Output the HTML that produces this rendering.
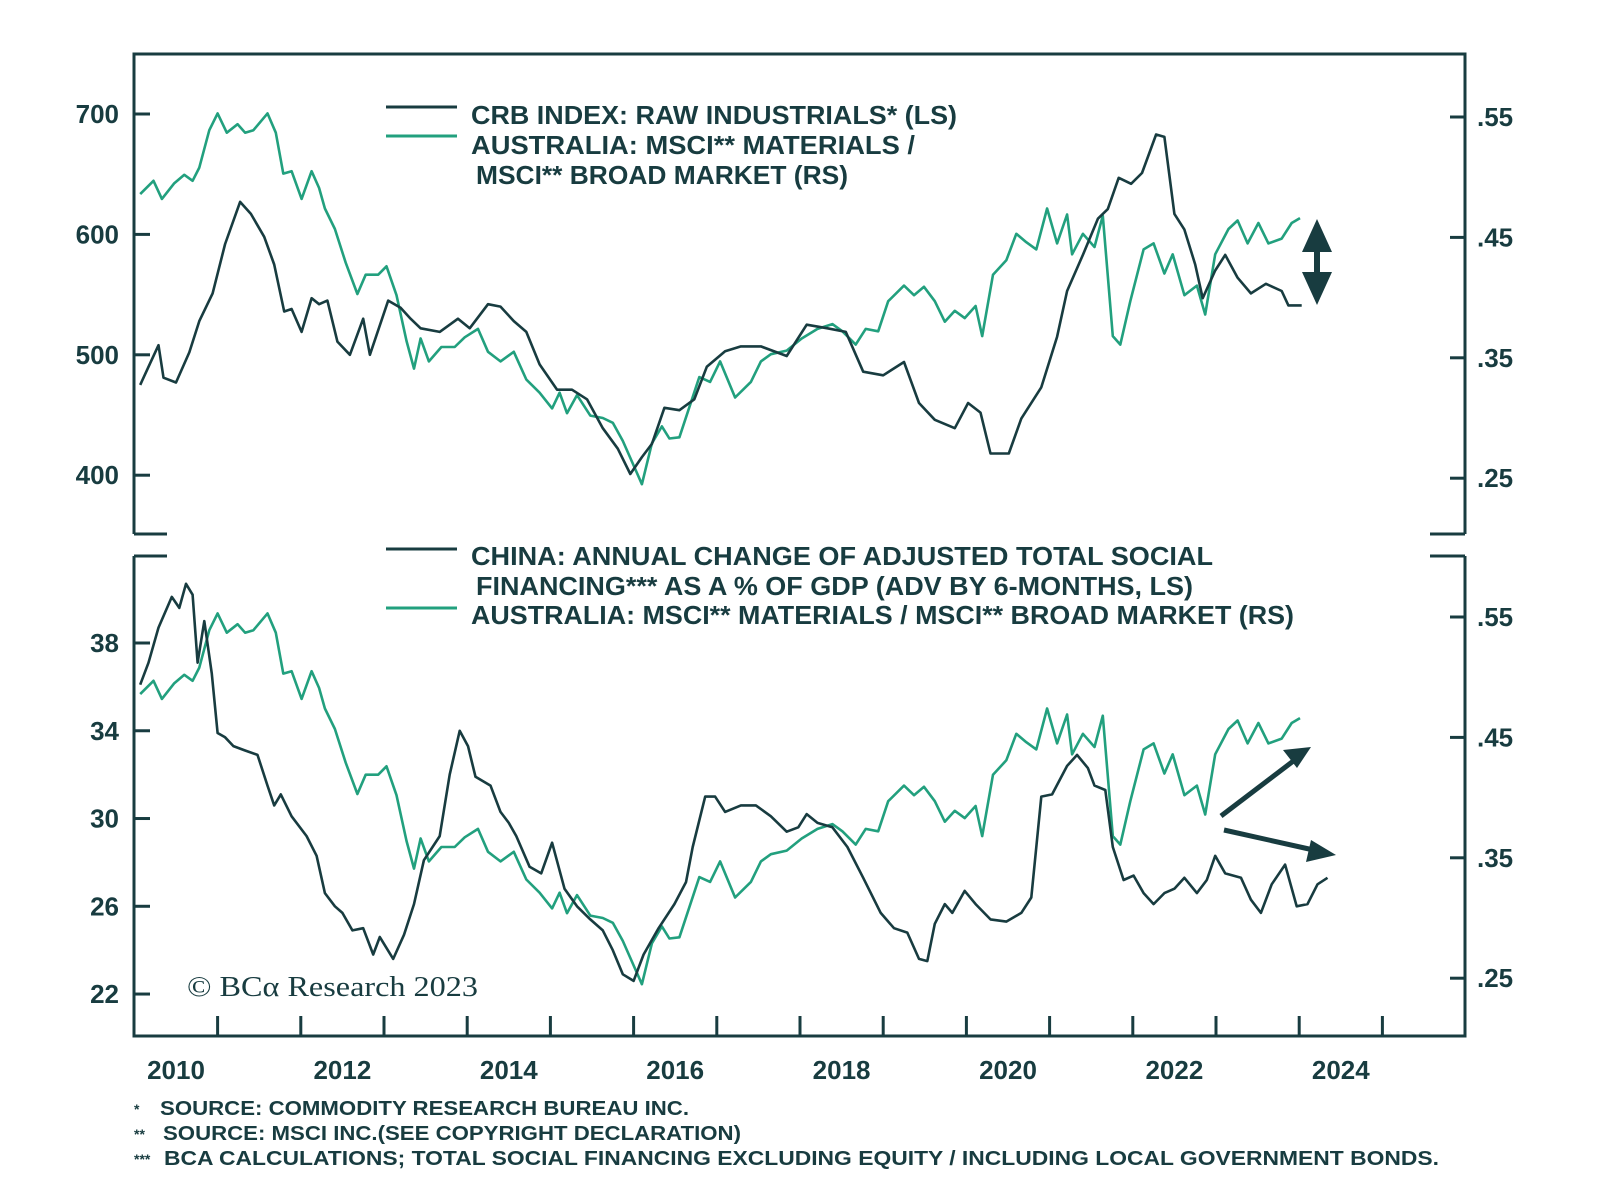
<!DOCTYPE html>
<html><head><meta charset="utf-8"><style>
html,body{margin:0;padding:0;background:#fff;}
svg{display:block;}
text{font-family:"Liberation Sans",sans-serif;font-weight:bold;fill:#183c40;}
</style></head><body>
<svg id="chart" width="1600" height="1200" viewBox="0 0 1600 1200" xmlns="http://www.w3.org/2000/svg">
<g id="frame" stroke="#183c40" stroke-width="3" fill="none">
  <polyline points="134,534 134,54 1465,54 1465,534"/>
  <line x1="134" y1="534" x2="167" y2="534"/>
  <line x1="1430" y1="534" x2="1465" y2="534"/>
  <polyline points="134,556 134,1036 1465,1036 1465,556"/>
  <line x1="134" y1="556" x2="167" y2="556"/>
  <line x1="1430" y1="556" x2="1465" y2="556"/>
</g>
<g id="axes"></g>
<g id="series"></g>
<g>
  <line x1="386" y1="107" x2="457" y2="107" stroke="#183c40" stroke-width="3"/>
  <line x1="386" y1="136" x2="457" y2="136" stroke="#22a07e" stroke-width="3"/>
  <text x="471" y="124" font-size="26" textLength="486" lengthAdjust="spacingAndGlyphs">CRB INDEX: RAW INDUSTRIALS* (LS)</text>
  <text x="471" y="154" font-size="26" textLength="444" lengthAdjust="spacingAndGlyphs">AUSTRALIA: MSCI** MATERIALS /</text>
  <text x="476" y="184" font-size="26" textLength="372" lengthAdjust="spacingAndGlyphs">MSCI** BROAD MARKET (RS)</text>
</g>
<g>
  <line x1="386" y1="549" x2="457" y2="549" stroke="#183c40" stroke-width="3"/>
  <line x1="386" y1="608" x2="457" y2="608" stroke="#22a07e" stroke-width="3"/>
  <text x="471" y="565" font-size="26" textLength="742" lengthAdjust="spacingAndGlyphs">CHINA: ANNUAL CHANGE OF ADJUSTED TOTAL SOCIAL</text>
  <text x="476" y="595" font-size="26" textLength="717" lengthAdjust="spacingAndGlyphs">FINANCING*** AS A % OF GDP (ADV BY 6-MONTHS, LS)</text>
  <text x="471" y="624" font-size="26" textLength="823" lengthAdjust="spacingAndGlyphs">AUSTRALIA: MSCI** MATERIALS / MSCI** BROAD MARKET (RS)</text>
</g>
<text x="187" y="996" font-size="29" style="font-family:'Liberation Serif',serif;font-weight:normal" textLength="291" lengthAdjust="spacingAndGlyphs">© BCα Research 2023</text>
<g fill="#183c40" stroke="#183c40">
  <line x1="1317" y1="240" x2="1317" y2="284" stroke-width="6"/>
  <polygon points="1317,219 1302,252 1332,252" stroke="none"/>
  <polygon points="1317,305 1302,272 1332,272" stroke="none"/>
  <line x1="1221" y1="816" x2="1296" y2="759" stroke-width="5"/>
  <polygon points="1311,747 1283,750 1297,768" stroke="none"/>
  <line x1="1224" y1="830" x2="1318" y2="851" stroke-width="5"/>
  <polygon points="1336,855 1311,840 1306,862" stroke="none"/>
</g>
<g>
  <text x="134" y="1114" font-size="14">*</text>
  <text x="160" y="1115" font-size="20" textLength="529" lengthAdjust="spacingAndGlyphs">SOURCE: COMMODITY RESEARCH BUREAU INC.</text>
  <text x="134" y="1139" font-size="14">**</text>
  <text x="163" y="1140" font-size="20" textLength="578" lengthAdjust="spacingAndGlyphs">SOURCE: MSCI INC.(SEE COPYRIGHT DECLARATION)</text>
  <text x="134" y="1164" font-size="14">***</text>
  <text x="164" y="1165" font-size="20" textLength="1275" lengthAdjust="spacingAndGlyphs">BCA CALCULATIONS; TOTAL SOCIAL FINANCING EXCLUDING EQUITY / INCLUDING LOCAL GOVERNMENT BONDS.</text>
</g>
</svg>
<script>
const crbDates=[2009.57,2009.67,2009.79,2009.85,2010.00,2010.16,2010.28,2010.44,2010.59,2010.77,2010.90,2011.06,2011.18,2011.30,2011.39,2011.51,2011.63,2011.72,2011.82,2011.94,2012.09,2012.25,2012.33,2012.55,2012.70,2012.82,2012.94,2013.17,2013.39,2013.53,2013.75,2013.90,2014.06,2014.21,2014.37,2014.58,2014.76,2014.94,2015.13,2015.31,2015.46,2015.60,2015.72,2015.87,2016.05,2016.23,2016.38,2016.60,2016.79,2017.03,2017.34,2017.58,2017.83,2018.05,2018.26,2018.50,2018.75,2018.93,2019.12,2019.36,2019.52,2019.67,2019.79,2020.01,2020.16,2020.40,2020.59,2020.71,2020.90,2021.08,2021.20,2021.33,2021.48,2021.61,2021.78,2021.88,2022.00,2022.12,2022.25,2022.34,2022.49,2022.61,2022.76,2022.92,2023.10,2023.29,2023.37,2023.53];
const crbValues=[475,490,508,481,477,502,528,551,592,627,617,598,575,536,538,519,547,542,545,511,500,530,500,545,539,530,522,519,530,522,542,540,528,519,492,471,471,463,439,422,401,415,426,456,454,463,490,503,507,507,499,525,522,519,486,483,494,460,446,439,460,452,418,418,447,473,515,553,583,613,621,647,642,651,683,681,617,604,575,547,570,583,564,551,559,553,541,541];
const msciDates=[2009.57,2009.73,2009.83,2009.98,2010.10,2010.20,2010.28,2010.40,2010.50,2010.61,2010.74,2010.83,2010.93,2011.10,2011.20,2011.29,2011.39,2011.51,2011.63,2011.72,2011.79,2011.91,2012.04,2012.18,2012.28,2012.43,2012.53,2012.65,2012.77,2012.86,2012.94,2013.04,2013.19,2013.35,2013.47,2013.63,2013.75,2013.90,2014.06,2014.21,2014.37,2014.52,2014.61,2014.70,2014.82,2014.98,2015.13,2015.25,2015.37,2015.60,2015.72,2015.84,2015.93,2016.05,2016.29,2016.42,2016.54,2016.72,2016.91,2017.03,2017.15,2017.34,2017.52,2017.71,2017.89,2018.01,2018.17,2018.29,2018.44,2018.56,2018.75,2018.87,2018.99,2019.12,2019.24,2019.36,2019.48,2019.61,2019.69,2019.82,2019.98,2020.10,2020.22,2020.34,2020.47,2020.59,2020.71,2020.77,2020.90,2021.04,2021.14,2021.26,2021.35,2021.47,2021.63,2021.75,2021.88,2021.98,2022.12,2022.27,2022.37,2022.49,2022.65,2022.76,2022.88,2023.01,2023.13,2023.29,2023.41,2023.51];
const msciValues=[.486,.497,.482,.495,.502,.497,.508,.539,.553,.537,.544,.537,.539,.553,.537,.503,.505,.482,.505,.491,.474,.457,.429,.403,.419,.419,.426,.402,.364,.341,.366,.347,.359,.359,.367,.374,.355,.347,.355,.332,.321,.308,.321,.304,.319,.302,.300,.296,.281,.245,.279,.293,.283,.284,.334,.330,.347,.317,.330,.347,.353,.356,.366,.374,.378,.372,.361,.374,.372,.397,.410,.402,.409,.397,.380,.389,.383,.393,.368,.419,.431,.453,.446,.440,.474,.445,.469,.436,.453,.442,.468,.368,.361,.397,.440,.445,.420,.436,.402,.410,.386,.436,.457,.464,.445,.462,.445,.449,.462,.466];
const tsfDates=[2009.57,2009.67,2009.79,2009.95,2010.04,2010.12,2010.20,2010.26,2010.34,2010.43,2010.50,2010.59,2010.69,2010.83,2010.98,2011.10,2011.18,2011.26,2011.39,2011.57,2011.69,2011.79,2011.91,2012.00,2012.12,2012.25,2012.37,2012.45,2012.61,2012.74,2012.86,2012.98,2013.17,2013.29,2013.41,2013.51,2013.60,2013.78,2013.90,2014.00,2014.09,2014.25,2014.39,2014.52,2014.67,2014.82,2014.98,2015.13,2015.25,2015.37,2015.50,2015.62,2015.80,2015.99,2016.13,2016.21,2016.36,2016.48,2016.60,2016.79,2016.97,2017.15,2017.34,2017.48,2017.58,2017.71,2017.89,2018.07,2018.26,2018.47,2018.63,2018.79,2018.93,2019.03,2019.12,2019.24,2019.33,2019.48,2019.61,2019.79,2019.98,2020.16,2020.28,2020.40,2020.53,2020.71,2020.83,2020.96,2021.04,2021.17,2021.26,2021.39,2021.51,2021.63,2021.75,2021.88,2022.00,2022.12,2022.27,2022.39,2022.49,2022.61,2022.80,2022.92,2023.04,2023.17,2023.33,2023.47,2023.60,2023.72,2023.84];
const tsfValues=[36.1,37.1,38.7,40.1,39.6,40.7,40.2,37.1,39.0,36.6,33.9,33.7,33.3,33.1,32.9,31.5,30.6,31.1,30.1,29.2,28.3,26.6,26.0,25.7,24.9,25.0,23.8,24.6,23.6,24.7,26.1,28.1,29.2,32.0,34.0,33.3,31.9,31.5,30.3,29.8,29.2,27.8,27.5,28.9,26.8,26.0,25.4,24.9,24.0,22.9,22.6,23.8,25.0,26.1,27.1,28.7,31.0,31.0,30.3,30.6,30.6,30.1,29.4,29.6,30.2,29.8,29.6,28.7,27.3,25.7,25.0,24.8,23.6,23.5,25.2,26.1,25.7,26.7,26.1,25.4,25.3,25.7,26.4,31.0,31.1,32.4,32.9,32.3,31.5,31.3,28.7,27.2,27.4,26.6,26.1,26.6,26.8,27.3,26.6,27.2,28.3,27.5,27.3,26.3,25.7,27.0,27.9,26.0,26.1,27.0,27.3];
const xTickLabels=["2010","2012","2014","2016","2018","2020","2022","2024"];
const topLeftTicks=[400,500,600,700];
const topRightTicks=[".25",".35",".45",".55"];
const botLeftTicks=[22,26,30,34,38];
const botRightTicks=[".25",".35",".45",".55"];

const NS="http://www.w3.org/2000/svg";
function x(t){return 176+(t-2010)*83.2;}
function yTL(v){return 114+(700-v)*1.204;}
function yTR(v){return 117+(0.55-v)*1204;}
function yBL(v){return 643+(38-v)*21.94;}
function yBR(v){return 617+(0.55-v)*1204;}
function mk(tag,attrs,parent){const e=document.createElementNS(NS,tag);for(const k in attrs)e.setAttribute(k,attrs[k]);parent.appendChild(e);return e;}

const axes=document.getElementById('axes');
const C="#183c40";
for(let yr=2010.5;yr<=2024.6;yr+=1){
  const t=mk('line',{x1:x(yr),x2:x(yr),y1:1036,y2:1016,stroke:C,'stroke-width':3},axes);
  
  
}
xTickLabels.forEach(l=>{
  const t=mk('text',{x:x(+l),y:1079,'font-size':26,'text-anchor':'middle'},axes);
  t.textContent=l;
  
  
});
function yTicks(vals,fn,side){
  vals.forEach(v=>{
    const yy=fn(+v);
    const x1=side==='l'?134:1450, x2=side==='l'?150:1465;
    const ln=mk('line',{x1:x1,x2:x2,y1:yy,y2:yy,stroke:C,'stroke-width':3},axes);
    
    
    const tx=mk('text',{x:side==='l'?119:1477,y:yy+9,'font-size':26,'text-anchor':side==='l'?'end':'start'},axes);
    tx.textContent=String(v);
    
    
  });
}
yTicks(topLeftTicks,yTL,'l');
yTicks(topRightTicks,yTR,'r');
yTicks(botLeftTicks,yBL,'l');
yTicks(botRightTicks,yBR,'r');

const ser=document.getElementById('series');
function line(dates,vals,fn,color,name){
  const pts=dates.map((d,i)=>x(d).toFixed(1)+','+fn(vals[i]).toFixed(1)).join(' ');
  const p=mk('polyline',{points:pts,fill:'none',stroke:color,'stroke-width':2.6,'stroke-linejoin':'round'},ser);
  
  
}
line(msciDates,msciValues,yTR,"#22a07e","top-msci-materials-line");
line(crbDates,crbValues,yTL,C,"crb-raw-industrials-line");
line(msciDates,msciValues,yBR,"#22a07e","bottom-msci-materials-line");
line(tsfDates,tsfValues,yBL,C,"china-tsf-line");
</script>
</body></html>
